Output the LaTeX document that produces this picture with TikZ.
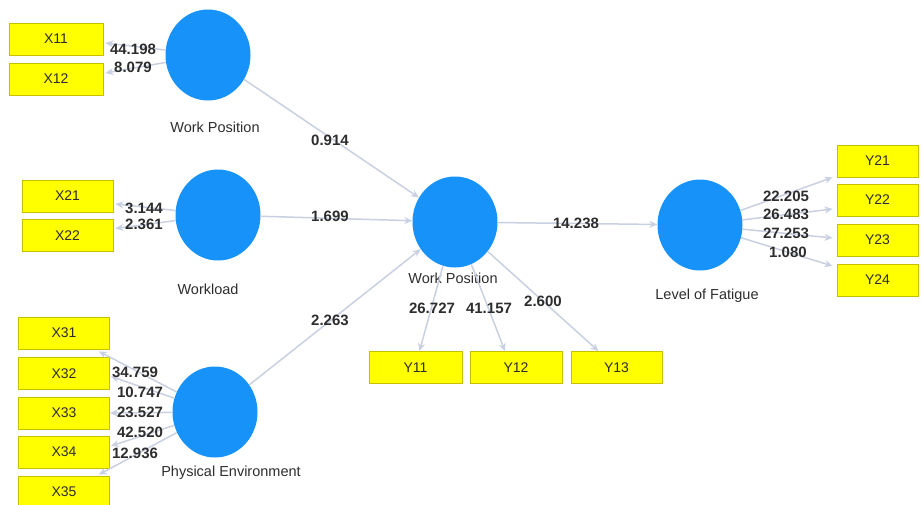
\documentclass[tikz,border=0pt]{standalone}
\usepackage{fontspec}
\setmainfont{Liberation Sans}
\usetikzlibrary{shapes.geometric,arrows.meta,calc}
\definecolor{lv}{RGB}{22,146,248}
\definecolor{bx}{RGB}{255,255,0}
\definecolor{bxd}{RGB}{200,190,0}
\definecolor{ln}{RGB}{200,208,225}
\definecolor{tx}{RGB}{45,45,45}
\tikzset{
  latent/.style={ellipse,fill=lv,draw=none,minimum width=85pt,minimum height=91pt,inner sep=0pt},
  ind/.style={rectangle,fill=bx,draw=bxd,line width=0.8pt,minimum height=32pt,inner sep=0pt,text=tx,font=\fontsize{14}{16}\selectfont},
  lvname/.style={text=tx,font=\fontsize{14.5}{16}\selectfont,inner sep=0pt},
  coef/.style={text=tx,font=\bfseries\fontsize{15}{17}\selectfont,inner sep=0pt},
  arr/.style={draw=ln,line width=1.5pt,-{Stealth[length=8pt,width=7pt]}},
}
\begin{document}
\begin{tikzpicture}[x=1pt,y=-1pt]
\useasboundingbox (0,0) rectangle (922,504);
% latent variables
\node[latent] (wp1) at (208,55) {};
\node[latent] (wl) at (218,215) {};
\node[latent] (pe) at (215,412) {};
\node[latent] (c) at (455,222) {};
\node[latent] (lof) at (700,225) {};
% latent names
\node[lvname] (nwp1) at (215,127) {Work Position};
\node[lvname] (nwl) at (208,289) {Workload};
\node[lvname] (npe) at (231,473) {Physical Environment};
\node[lvname] (nc) at (453,278) {Work Position};
\node[lvname] (nlof) at (707,296) {Level of Fatigue};
% indicators
\node[ind,minimum width=94pt] (x11) at (56,39) {X11};
\node[ind,minimum width=94pt] (x12) at (56,79) {X12};
\node[ind,minimum width=91pt] (x21) at (67.5,196) {X21};
\node[ind,minimum width=91pt] (x22) at (67.5,235.5) {X22};
\node[ind,minimum width=91pt] (x31) at (64,333) {X31};
\node[ind,minimum width=91pt] (x32) at (64,373.5) {X32};
\node[ind,minimum width=91pt] (x33) at (64,413) {X33};
\node[ind,minimum width=91pt] (x34) at (64,452) {X34};
\node[ind,minimum width=91pt] (x35) at (64,492) {X35};
\node[ind,minimum width=93pt] (y11) at (415.5,367.5) {Y11};
\node[ind,minimum width=92pt] (y12) at (516,367.5) {Y12};
\node[ind,minimum width=91pt] (y13) at (616.5,367.5) {Y13};
\node[ind,minimum width=81pt] (y21) at (877.5,161) {Y21};
\node[ind,minimum width=81pt] (y22) at (877.5,200) {Y22};
\node[ind,minimum width=81pt] (y23) at (877.5,240) {Y23};
\node[ind,minimum width=81pt] (y24) at (877.5,280) {Y24};
% measurement arrows
\draw[arr] (wp1) -- ($(x11.east)+(2,4)$);
\draw[arr] (wp1) -- ($(x12.east)+(2,-6)$);
\draw[arr] (wl) -- ($(x21.east)+(2,8)$);
\draw[arr] (wl) -- ($(x22.east)+(2,-7)$);
\draw[arr] (pe) -- ($(x31.south east)+(-11,2)$);
\draw[arr] (pe) -- ($(x32.east)+(1,3)$);
\draw[arr] (pe) -- (x33.east);
\draw[arr] (pe) -- ($(x34.east)+(1,-6)$);
\draw[arr] (pe) -- ($(x35.north east)+(-11,-1)$);
\draw[arr] (c) -- ($(y11.north)+(4,0)$);
\draw[arr] (c) -- ($(y12.north)+(-11,0)$);
\draw[arr] (c) -- ($(y13.north)+(-18,0)$);
\draw[arr] (lof) -- ($(y21.south west)+(-4,0)$);
\draw[arr] (lof) -- ($(y22.west)+(-4,9)$);
\draw[arr] (lof) -- ($(y23.west)+(-4,-2)$);
\draw[arr] (lof) -- ($(y24.west)+(-4,-14)$);
% structural arrows
\draw[arr] (wp1) -- (c);
\draw[arr] (wl) -- (c);
\draw[arr] (pe) -- (c);
\draw[arr] (c) -- (lof);
% coefficients
\node[coef] (k1) at (133,49) {44.198};
\node[coef] (k2) at (133,67) {8.079};
\node[coef] (k3) at (144,208) {3.144};
\node[coef] (k4) at (144,224) {2.361};
\node[coef] (k5) at (135,372) {34.759};
\node[coef] (k6) at (140,392) {10.747};
\node[coef] (k7) at (140,412) {23.527};
\node[coef] (k8) at (140,432) {42.520};
\node[coef] (k9) at (135,453) {12.936};
\node[coef] (k10) at (330,140) {0.914};
\node[coef] (k11) at (330,216) {1.699};
\node[coef] (k12) at (330,320) {2.263};
\node[coef] (k13) at (576,223) {14.238};
\node[coef] (k14) at (432,308) {26.727};
\node[coef] (k15) at (489,308) {41.157};
\node[coef] (k16) at (543,301) {2.600};
\node[coef] (k17) at (786,196) {22.205};
\node[coef] (k18) at (786,214) {26.483};
\node[coef] (k19) at (786,233) {27.253};
\node[coef] (k20) at (788,252) {1.080};
\end{tikzpicture}
\end{document}
